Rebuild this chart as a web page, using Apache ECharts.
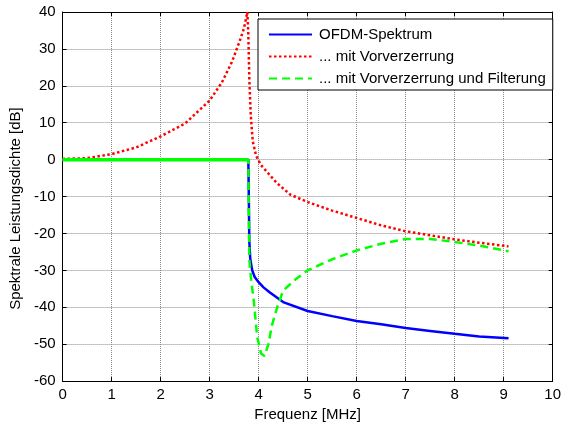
<!DOCTYPE html>
<html>
<head>
<meta charset="utf-8">
<script src="https://cdn.jsdelivr.net/npm/echarts@6/dist/echarts.min.js"></script>
<style>
  html, body { margin: 0; padding: 0; background: #fff; }
  #chart { width: 564px; height: 427px; }
</style>
</head>
<body>
<div id="chart"></div>
<script>
// Frequenz in MHz, Werte in dB
var ofdmFreq = [0, 3.79, 3.8, 3.81, 3.83, 3.87, 3.92, 4.0, 4.1, 4.23, 4.5, 5, 5.5, 6, 6.5, 7, 7.5, 8, 8.5, 9.1];
var ofdmVal  = [0, 0, -10, -22, -27, -30, -31.8, -33.2, -34.6, -36, -38.6, -41, -42.4, -43.7, -44.6, -45.6, -46.4, -47.2, -47.9, -48.4];

var vorFreq = [0, 0.5, 1, 1.5, 2, 2.5, 3, 3.25, 3.45, 3.6, 3.7, 3.77, 3.79, 3.81, 3.84, 3.88, 3.95, 4.05, 4.17, 4.37, 4.65, 5, 5.5, 6, 6.5, 7, 7.5, 8, 8.5, 9.1];
var vorVal  = [0.2, 0.4, 1.5, 3.3, 6.3, 9.8, 16, 20.9, 26.3, 31.6, 35.5, 40, 34, 22, 12, 5, 1, -1.5, -3.3, -6.3, -9.5, -11.5, -13.8, -15.8, -17.8, -19.4, -20.5, -21.6, -22.5, -23.5];

var filtFreq = [0, 3.79, 3.8, 3.81, 3.85, 3.9, 3.97, 4.05, 4.12, 4.2, 4.27, 4.37, 4.5, 4.75, 5, 5.5, 6, 6.5, 7, 7.5, 8, 8.5, 9.1];
var filtVal  = [0, 0, -15, -27, -33, -38, -48, -52.5, -53.2, -50, -45, -40.4, -35.5, -32.5, -30, -27, -24.6, -22.8, -21.5, -21.5, -22.3, -23.3, -24.8];

var xTicks = [0, 1, 2, 3, 4, 5, 6, 7, 8, 9, 10];
var yTicks = [-60, -50, -40, -30, -20, -10, 0, 10, 20, 30, 40];

function pairs(fs, vs) {
    var out = [];
    for (var i = 0; i < fs.length; i++) {
        out.push([fs[i], vs[i]]);
    }
    return out;
}

// flacher Teil der gefilterten Kurve wirkt im Original durch Rauschen durchgezogen
var filtFlat = [];
for (var i = 0; i < filtFreq.length; i++) {
    if (filtFreq[i] <= 3.79) filtFlat.push([filtFreq[i], filtVal[i]]);
}

var font = 'Liberation Sans';
var gridLine = { show: true, lineStyle: { color: '#8a8a8a', type: [1, 1], width: 1 } };

var myChart = echarts.init(document.getElementById('chart'));
var option = {
    backgroundColor: '#fff',
    animation: false,
    textStyle: { fontFamily: font },
    grid: { left: 59, right: 8, top: 12, bottom: 41, containLabel: false },
    legend: {
        data: ['OFDM-Spektrum', '... mit Vorverzerrung', '... mit Vorverzerrung und Filterung'],
        orient: 'vertical',
        left: 258,
        top: 19,
        padding: [8, 7, 4, 10],
        itemGap: 7,
        itemWidth: 43,
        itemHeight: 14,
        backgroundColor: '#fff',
        borderColor: '#000',
        borderWidth: 1,
        itemStyle: { opacity: 0 },
        textStyle: { fontFamily: font, fontSize: 15, color: '#000', padding: [0, 0, 0, 2] }
    },
    xAxis: [{
        type: 'value',
        min: 0, max: 10, interval: 1,
        name: 'Frequenz [MHz]',
        nameLocation: 'middle',
        nameGap: 25,
        nameTextStyle: { fontFamily: font, fontSize: 15, color: '#000' },
        axisLine: { show: true, onZero: false, lineStyle: { color: '#000', width: 1 } },
        axisTick: { show: true, inside: true, length: 4, lineStyle: { color: '#000' } },
        axisLabel: { fontFamily: font, fontSize: 15, color: '#000', margin: 6 },
        splitLine: gridLine
    }, {
        type: 'value',
        position: 'top',
        min: 0, max: 10, interval: 1,
        axisLine: { show: true, onZero: false, lineStyle: { color: '#000', width: 1 } },
        axisTick: { show: true, inside: true, length: 4, lineStyle: { color: '#000' } },
        axisLabel: { show: false },
        splitLine: { show: false }
    }],
    yAxis: [{
        type: 'value',
        min: -60, max: 40, interval: 10,
        name: 'Spektrale Leistungsdichte [dB]',
        nameLocation: 'middle',
        nameGap: 36,
        nameTextStyle: { fontFamily: font, fontSize: 15, color: '#000', padding: [0, 24, 0, 0] },
        axisLine: { show: true, onZero: false, lineStyle: { color: '#000', width: 1 } },
        axisTick: { show: true, inside: true, length: 4, lineStyle: { color: '#000' } },
        axisLabel: { fontFamily: font, fontSize: 15, color: '#000', margin: 7 },
        splitLine: gridLine
    }, {
        type: 'value',
        position: 'right',
        min: -60, max: 40, interval: 10,
        axisLine: { show: true, onZero: false, lineStyle: { color: '#000', width: 1 } },
        axisTick: { show: true, inside: true, length: 4, lineStyle: { color: '#000' } },
        axisLabel: { show: false },
        splitLine: { show: false }
    }],
    series: [{
        name: 'OFDM-Spektrum',
        type: 'line',
        data: pairs(ofdmFreq, ofdmVal),
        showSymbol: false,
        symbol: 'none',
        lineStyle: { color: '#0000ff', width: 2.5, type: 'solid' },
        itemStyle: { color: '#0000ff' }
    }, {
        name: '... mit Vorverzerrung',
        type: 'line',
        data: pairs(vorFreq, vorVal),
        showSymbol: false,
        symbol: 'none',
        lineStyle: { color: '#ff0000', width: 2.5, type: [2.5, 2.5] },
        itemStyle: { color: '#ff0000' }
    }, {
        name: '... mit Vorverzerrung und Filterung',
        type: 'line',
        data: pairs(filtFreq, filtVal),
        showSymbol: false,
        symbol: 'none',
        lineStyle: { color: '#00ff00', width: 2.5, type: [8, 5] },
        itemStyle: { color: '#00ff00' }
    }, {
        name: 'filtFlat',
        type: 'line',
        data: filtFlat,
        showSymbol: false,
        symbol: 'none',
        lineStyle: { color: '#00ff00', width: 3.5, type: 'solid' },
        itemStyle: { color: '#00ff00' }
    }]
};
myChart.setOption(option);
</script>
</body>
</html>
